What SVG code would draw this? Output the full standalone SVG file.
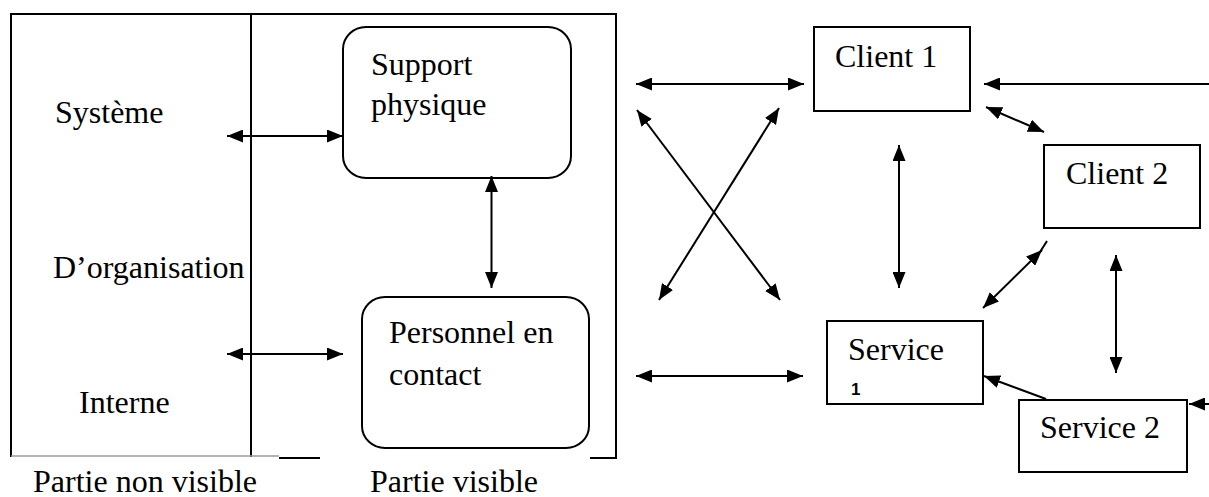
<svg xmlns="http://www.w3.org/2000/svg" width="1209" height="497" viewBox="0 0 1209 497">
  <style>
    .t { font-family: "Liberation Serif", "Times New Roman", serif; font-size: 32px; fill: #000; }
    .small { font-family: "Liberation Sans", Arial, sans-serif; font-size: 17px; font-weight: bold; fill: #000; }
    .box { fill: #fff; stroke: #000; stroke-width: 2; }
    .frame { fill: none; stroke: #000; stroke-width: 2; }
    .conn line { stroke: #000; stroke-width: 2; fill: none; }
    .both { marker-start: url(#ah); marker-end: url(#ah); }
    .one { marker-end: url(#ah); }
  </style>
  <defs>
    <marker id="ah" viewBox="0 0 16 13" refX="16" refY="6.5" markerWidth="16" markerHeight="13" markerUnits="userSpaceOnUse" orient="auto-start-reverse">
      <path d="M0,0 L16,6.5 L0,13 z" fill="#000"/>
    </marker>
  </defs>
  <rect width="1209" height="497" fill="#fff"/>

  <!-- service organisation frame: hidden part | visible part -->
  <g id="frame">
    <line class="frame" x1="10" y1="14" x2="617" y2="14"/>
    <line class="frame" x1="11" y1="13" x2="11" y2="457"/>
    <line class="frame" x1="616" y1="13" x2="616" y2="459"/>
    <line class="frame" x1="251" y1="14" x2="251" y2="457"/>
    <line x1="11" y1="456" x2="279" y2="456" stroke="#9a9a9a" stroke-width="1.5"/>
    <line class="frame" x1="279" y1="458" x2="320" y2="458"/>
    <line class="frame" x1="590" y1="458" x2="617" y2="458"/>
  </g>

  <g id="hidden-labels">
    <text class="t" x="55" y="123">Système</text>
    <text class="t" x="53" y="278">D’organisation</text>
    <text class="t" x="79" y="413">Interne</text>
  </g>

  <g id="support-physique">
    <rect class="box" x="343" y="27" width="228" height="151" rx="23" ry="22"/>
    <text class="t" x="371" y="75">Support</text>
    <text class="t" x="371" y="115">physique</text>
  </g>

  <g id="personnel-contact">
    <rect class="box" x="362" y="297" width="227" height="151" rx="23" ry="22"/>
    <text class="t" x="389" y="343">Personnel en</text>
    <text class="t" x="389" y="385">contact</text>
  </g>

  <g id="client-1">
    <rect class="box" x="814" y="27" width="156" height="84"/>
    <text class="t" x="835" y="67">Client 1</text>
  </g>

  <g id="client-2">
    <rect class="box" x="1044" y="145" width="156" height="83"/>
    <text class="t" x="1066" y="184">Client 2</text>
  </g>

  <g id="service-1">
    <rect class="box" x="827" y="321" width="156" height="83"/>
    <text class="t" x="848" y="360">Service</text>
    <text class="small" x="851" y="395">1</text>
  </g>

  <g id="service-2">
    <rect class="box" x="1019" y="400" width="168" height="72"/>
    <text class="t" x="1040" y="438">Service 2</text>
  </g>

  <g id="captions">
    <text class="t" x="33" y="492">Partie non visible</text>
    <text class="t" x="370" y="492">Partie visible</text>
  </g>

  <g id="connectors" class="conn">
    <line class="both" x1="227" y1="136" x2="343" y2="136"/>
    <line class="both" x1="227" y1="354" x2="343" y2="354"/>
    <line class="both" x1="491.5" y1="176" x2="491.5" y2="288"/>
    <line class="both" x1="636" y1="84" x2="804" y2="84"/>
    <line class="one" x1="1209" y1="84" x2="984" y2="84"/>
    <line class="both" x1="986" y1="107" x2="1044" y2="132"/>
    <line class="both" x1="637" y1="110" x2="780" y2="300"/>
    <line class="both" x1="779" y1="108" x2="659" y2="300"/>
    <line class="both" x1="899" y1="145" x2="899" y2="288"/>
    <line class="both" x1="636" y1="376" x2="803" y2="376"/>
    <line class="both" x1="983" y1="308" x2="1042" y2="250"/>
    <line x1="1040" y1="252" x2="1047" y2="241"/>
    <line class="both" x1="1116" y1="255" x2="1116" y2="373"/>
    <line class="one" x1="1046" y1="399" x2="984" y2="376"/>
    <line class="one" x1="1209" y1="404" x2="1189" y2="404"/>
  </g>
</svg>
